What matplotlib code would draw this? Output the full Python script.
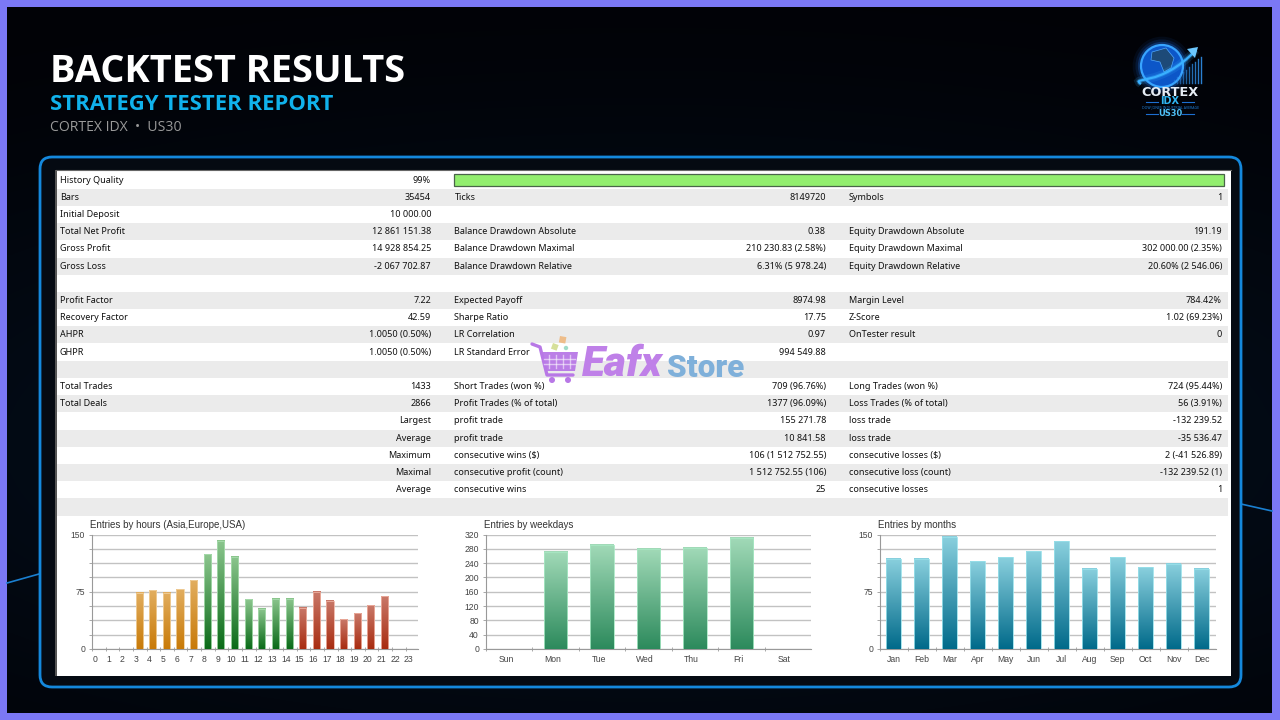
import numpy as np
import matplotlib
matplotlib.use("Agg")
import matplotlib.pyplot as plt
from matplotlib.patches import FancyBboxPatch, Rectangle, Circle, PathPatch, Polygon
from matplotlib.path import Path
from matplotlib.colors import LinearSegmentedColormap

# report table, one list per column
col1_labels = ["History Quality", "Bars", "Initial Deposit", "Total Net Profit", "Gross Profit", "Gross Loss", "",
               "Profit Factor", "Recovery Factor", "AHPR", "GHPR", "",
               "Total Trades", "Total Deals", "", "", "", "", "", ""]
col1_values = ["99%", "35454", "10 000.00", "12 861 151.38", "14 928 854.25", "-2 067 702.87", "",
               "7.22", "42.59", "1.0050 (0.50%)", "1.0050 (0.50%)", "",
               "1433", "2866", "Largest", "Average", "Maximum", "Maximal", "Average", ""]
col2_labels = ["", "Ticks", "", "Balance Drawdown Absolute", "Balance Drawdown Maximal", "Balance Drawdown Relative", "",
               "Expected Payoff", "Sharpe Ratio", "LR Correlation", "LR Standard Error", "",
               "Short Trades (won %)", "Profit Trades (% of total)", "profit trade", "profit trade",
               "consecutive wins ($)", "consecutive profit (count)", "consecutive wins", ""]
col2_values = ["", "8149720", "", "0.38", "210 230.83 (2.58%)", "6.31% (5 978.24)", "",
               "8974.98", "17.75", "0.97", "994 549.88", "",
               "709 (96.76%)", "1377 (96.09%)", "155 271.78", "10 841.58",
               "106 (1 512 752.55)", "1 512 752.55 (106)", "25", ""]
col3_labels = ["", "Symbols", "", "Equity Drawdown Absolute", "Equity Drawdown Maximal", "Equity Drawdown Relative", "",
               "Margin Level", "Z-Score", "OnTester result", "", "",
               "Long Trades (won %)", "Loss Trades (% of total)", "loss trade", "loss trade",
               "consecutive losses ($)", "consecutive loss (count)", "consecutive losses", ""]
col3_values = ["", "1", "", "191.19", "302 000.00 (2.35%)", "20.60% (2 546.06)", "",
               "784.42%", "1.02 (69.23%)", "0", "", "",
               "724 (95.44%)", "56 (3.91%)", "-132 239.52", "-35 536.47",
               "2 (-41 526.89)", "-132 239.52 (1)", "1", ""]

# bar charts
hours = [str(h) for h in range(24)]
hour_entries = [0, 0, 0, 74, 77, 74, 78, 90, 124, 142, 121, 65, 53, 66, 66, 54, 75, 63, 39, 47, 57, 69, 0, 0]
weekdays = ["Sun", "Mon", "Tue", "Wed", "Thu", "Fri", "Sat"]
weekday_entries = [0, 272, 291, 280, 283, 311, 0]
months = ["Jan", "Feb", "Mar", "Apr", "May", "Jun", "Jul", "Aug", "Sep", "Oct", "Nov", "Dec"]
month_entries = [118, 118, 147, 115, 120, 128, 141, 105, 120, 107, 112, 105]

plt.rcParams["font.family"] = ["Noto Sans", "DejaVu Sans"]

fig = plt.figure(figsize=(12.8, 7.2), dpi=100, facecolor="#7b78f5")
bg = fig.add_axes([0, 0, 1, 1])
bg.set_xlim(0, 1280)
bg.set_ylim(720, 0)
bg.axis("off")


def px_axes(x0, y0, x1, y1):
    return fig.add_axes([x0 / 1280, 1 - y1 / 720, (x1 - x0) / 1280, (y1 - y0) / 720])


# dark backdrop with a faint blue glow behind the panel
yy, xx = np.mgrid[0:1:120j, 0:1:200j]
glow = np.exp(-((xx - 0.5) ** 2 / 0.5 + (yy - 0.62) ** 2 / 0.18))
dark = LinearSegmentedColormap.from_list("dark", ["#010206", "#04101f"])
bg.imshow(glow, extent=[7, 1272, 713, 7], cmap=dark, aspect="auto", zorder=0, interpolation="bilinear")
bg.set_xlim(0, 1280)
bg.set_ylim(720, 0)

# side accents
bg.plot([7, 39], [583, 574], color="#1a7fd0", lw=1.2, zorder=1)
bg.plot([1241, 1272], [504, 511], color="#1a7fd0", lw=1.2, zorder=1)

# header
bg.text(50, 72, "BACKTEST RESULTS", color="white", fontsize=27.4, fontweight="bold",
        family="Open Sans", va="center", ha="left")
bg.text(49.5, 105, "STRATEGY TESTER REPORT", color="#10b2ec", fontsize=15.95, fontweight="bold",
        family="Open Sans", va="center", ha="left")
bg.text(50, 127.5, "CORTEX IDX  •  US30", color="#9a9a9a", fontsize=10.1, family="Open Sans",
        va="center", ha="left")

# panel
bg.add_patch(FancyBboxPatch((40, 157), 1201, 530, boxstyle="round,pad=0,rounding_size=12",
                            fc="#050a12", ec="#1488dc", lw=2, zorder=2))
bg.add_patch(Rectangle((55, 170), 2, 506, fc="#555555", ec="none", zorder=3))
bg.add_patch(Rectangle((56.5, 170), 1174.5, 506, fc="white", ec="none", zorder=3))
bg.plot([56, 1231], [170, 170], color="#666666", lw=0.8, zorder=3.2)

# table
row_h = 17.2
row_top = 171.5
for i in range(len(col1_labels)):
    y = row_top + i * row_h
    if i % 2 == 1:
        bg.add_patch(Rectangle((57, y), 1171, row_h, fc="#ebebeb", ec="none", zorder=3.5))
    yc = y + row_h / 2
    for x, txt in ((60, col1_labels[i]), (454.5, col2_labels[i]), (849, col3_labels[i])):
        bg.text(x, yc, txt, fontsize=6.5, color="#111111", ha="left", va="center", zorder=4)
    for x, txt in ((431, col1_values[i]), (826, col2_values[i]), (1222, col3_values[i])):
        bg.text(x, yc, txt, fontsize=6.5, color="#111111", ha="right", va="center", zorder=4)
bg.add_patch(Rectangle((454, 173.5), 770, 12, fc="#92ee6e", ec="#4a644a", lw=0.9, zorder=4))


def gradient_bars(ax, positions, values, width, tops, bottoms, edges):
    # one bar at a time so the hour chart can change colour per session
    bars = ax.bar(positions, values, width=width, color="none", zorder=3)
    for bar, top, bottom, edge in zip(bars, tops, bottoms, edges):
        h = bar.get_height()
        if h == 0:
            continue
        cmap = LinearSegmentedColormap.from_list("g", [bottom, top])
        x0 = bar.get_x()
        ax.imshow(np.linspace(0, 1, 256)[::-1].reshape(-1, 1), extent=[x0, x0 + bar.get_width(), 0, h],
                  cmap=cmap, aspect="auto", zorder=3, interpolation="bilinear")
        ax.add_patch(Rectangle((x0, 0), bar.get_width(), h, fc="none", ec=edge, lw=0.6, zorder=4))


def setup_chart(ax, title, xlim, ymax, step, labelled, edges, label_pos, labels):
    ax.set_xlim(*xlim)
    ax.set_ylim(0, ymax)
    ax.set_facecolor("white")
    for s in ("top", "right"):
        ax.spines[s].set_visible(False)
    for s in ("left", "bottom"):
        ax.spines[s].set_color("#999999")
        ax.spines[s].set_linewidth(0.8)
    ticks = np.arange(0, ymax + step, step)
    ax.set_yticks(ticks)
    ax.set_yticklabels([str(int(t)) if t in labelled else "" for t in ticks],
                       fontsize=6.2, color="#444444", family="Liberation Sans")
    ax.grid(axis="y", color="#c2c2c2", lw=1.0, zorder=1)
    ax.set_axisbelow(True)
    ax.tick_params(axis="y", length=2, width=0.6, color="#999999", pad=3)
    ax.set_xticks(edges)
    ax.set_xticklabels([])
    ax.tick_params(axis="x", which="major", length=2.5, width=0.6, color="#999999", direction="inout")
    ax.set_xticks(label_pos, minor=True)
    ax.set_xticklabels(labels, minor=True, fontsize=6.2, color="#444444", family="Liberation Sans")
    ax.tick_params(axis="x", which="minor", length=0, pad=4.5)
    ax.text(-0.005, 1.035, title, transform=ax.transAxes, fontsize=7.0, color="#333333",
            family="Liberation Sans", ha="left", va="bottom")


# hours
ax1 = px_axes(92, 534.5, 418, 649)
n = len(hours)
tops = ["#e2ae60"] * 8 + ["#8cc68e"] * 7 + ["#c9796a"] * 9
bottoms = ["#c87a08"] * 8 + ["#0a6a18"] * 7 + ["#a82c10"] * 9
edges_c = ["#f0cf9c"] * 8 + ["#a8dcae"] * 7 + ["#eeb0a0"] * 9
setup_chart(ax1, "Entries by hours (Asia,Europe,USA)", (0, 23.9), 150, 18.75, (0, 75, 150),
            np.arange(n), np.arange(n) + 0.22, hours)
gradient_bars(ax1, np.arange(n) + 0.45, hour_entries, 0.52, tops, bottoms, edges_c)

# weekdays
ax2 = px_axes(486, 534.5, 811, 649)
n = len(weekdays)
setup_chart(ax2, "Entries by weekdays", (0, 7.0), 320, 40, (0, 40, 80, 120, 160, 200, 240, 280, 320),
            np.arange(n), np.arange(n) + 0.43, weekdays)
gradient_bars(ax2, np.arange(n) + 0.5, weekday_entries, 0.51, ["#a2dab8"] * n, ["#2c8a5c"] * n, ["#a8e8c4"] * n)

# months
ax3 = px_axes(880, 534.5, 1216, 649)
n = len(months)
setup_chart(ax3, "Entries by months", (0, 12.0), 150, 18.75, (0, 75, 150),
            np.arange(n), np.arange(n) + 0.49, months)
gradient_bars(ax3, np.arange(n) + 0.48, month_entries, 0.52, ["#8ad0de"] * n, ["#006a8a"] * n, ["#98e0ea"] * n)

# imshow resets the limits, put them back
for a, xl, yl in ((ax1, (0, 23.9), 150), (ax2, (0, 7), 320), (ax3, (0, 12), 150)):
    a.set_xlim(*xl)
    a.set_ylim(0, yl)

# watermark drawn over the table
cart = "#b878e6"
bg.plot([532, 540, 547, 573], [344, 347, 375, 375], color=cart, lw=2.4, zorder=6, solid_capstyle="round")
bg.add_patch(Polygon([(541, 352), (578, 352), (575, 371), (546, 371)], fc=cart, ec="none", alpha=0.95, zorder=6))
for x in (549, 556, 563, 570):
    bg.plot([x, x], [355, 368], color="white", lw=1, alpha=0.55, zorder=6.5)
for y in (359, 364):
    bg.plot([544, 575], [y, y], color="white", lw=1, alpha=0.55, zorder=6.5)
for x in (552, 568):
    bg.add_patch(Circle((x, 380), 3, fc=cart, ec="none", zorder=6))
bg.add_patch(Rectangle((560, 336), 6.5, 6.5, angle=10, fc="#eebd8a", ec="none", zorder=6))
bg.add_patch(Rectangle((553, 343), 6, 6, angle=20, fc="#d6e09a", ec="none", zorder=6))
bg.add_patch(Circle((566, 348), 2.2, fc="#a0dcc8", ec="none", zorder=6))
bg.text(581.5, 364, "Eafx", fontsize=30.5, fontweight=900, style="italic", color="#bf80e8",
        family="Roboto", va="center", ha="left", zorder=6)
bg.text(667.5, 368, "Store", fontsize=22.6, fontweight=900, color="#7fb0da",
        family="Roboto", va="center", ha="left", zorder=6)

# logo, glow first then the sharp shapes
for lw, a in ((12, 0.07), (8, 0.12), (4.5, 0.25)):
    bg.add_patch(Circle((1162, 66), 21, fc="none", ec="#1f7dff", lw=lw, alpha=a, zorder=5))
bg.add_patch(Circle((1162, 66), 21, fc="#0c56c8", ec="#38a4ff", lw=1.6, zorder=5))
bg.add_patch(Polygon([(1152, 52), (1166, 48), (1174, 58), (1171, 68), (1164, 72), (1160, 62), (1151, 60)],
                     fc="#1d4a78", ec="#4fa8ff", lw=0.5, zorder=5.2))
arc = Path([(1141, 84), (1130, 76), (1160, 88), (1196, 50)],
           [Path.MOVETO, Path.CURVE4, Path.CURVE4, Path.CURVE4])
for lw, a in ((6, 0.15), (3, 0.35), (1.6, 1)):
    bg.add_patch(PathPatch(arc, fc="none", ec="#39b0ff", lw=lw, alpha=a, zorder=5.4))
bg.add_patch(Polygon([(1198, 47), (1187, 49), (1195, 58)], fc="#6cc8ff", ec="none", zorder=5.5))
for i, x in enumerate(range(1174, 1204, 3)):
    bg.plot([x, x], [83, 80 - i * 2.6], color="#2f8fe8", lw=1.0, alpha=0.45 + i * 0.05, zorder=5.3)
bg.text(1170, 92, "CORTEX", color="#e6edf5", fontsize=9.3, fontweight="bold", family="DejaVu Sans",
        ha="center", va="center", zorder=6)
bg.text(1170, 101.5, "IDX", color="#2fb4f0", fontsize=7, fontweight="bold", family="DejaVu Sans",
        ha="center", va="center", zorder=6)
bg.plot([1146, 1158], [101.5, 101.5], color="#1d6fd0", lw=0.8, zorder=6)
bg.plot([1182, 1194], [101.5, 101.5], color="#1d6fd0", lw=0.8, zorder=6)
bg.text(1170, 107.8, "DOW JONES INDUSTRIAL AVERAGE", color="#1f7fd8", fontsize=2.5, ha="center",
        va="center", zorder=6)
bg.text(1170, 113.5, "US30", color="#4fc0f5", fontsize=6, fontweight="bold", family="DejaVu Sans",
        ha="center", va="center", zorder=6)
bg.plot([1146, 1158], [113.5, 113.5], color="#1d6fd0", lw=0.8, zorder=6)
bg.plot([1182, 1194], [113.5, 113.5], color="#1d6fd0", lw=0.8, zorder=6)

fig.savefig("out.png", dpi=100, facecolor=fig.get_facecolor())
